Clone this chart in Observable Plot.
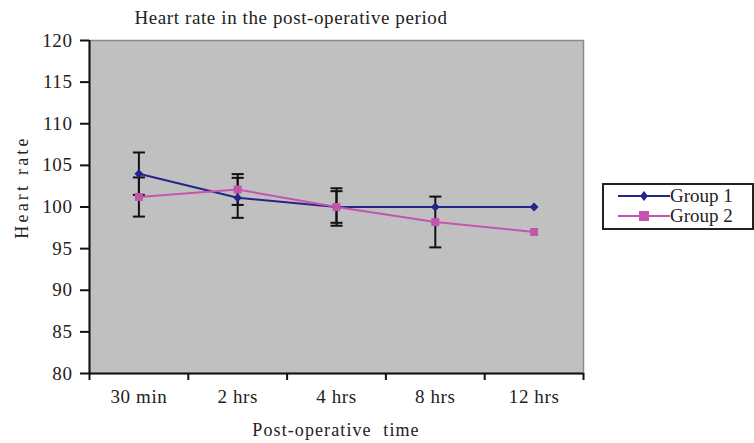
<!DOCTYPE html>
<html><head><meta charset="utf-8">
<script src="https://cdn.jsdelivr.net/npm/d3@7"></script>
<script src="https://cdn.jsdelivr.net/npm/@observablehq/plot@0.6"></script>
<style>
body{margin:0;background:#fff;}
#wrap{position:relative;width:754px;height:443px;font-family:"Liberation Serif",serif;color:#222;overflow:hidden;}
#wrap > svg{position:absolute;left:0;top:0;}
#wrap > svg text{font-size:19px;letter-spacing:0.6px;fill:#222;}
.ov{position:absolute;white-space:nowrap;}
#title{left:0;width:582px;top:7px;text-align:center;font-size:19px;letter-spacing:0.6px;}
#xlab{left:89px;width:494px;top:420px;text-align:center;font-size:18px;letter-spacing:1.1px;word-spacing:6px;}
#ylab{left:22px;top:187px;font-size:18px;letter-spacing:3.2px;transform:translate(-50%,-50%) rotate(-90deg);}
#legend{left:602px;top:183px;width:148px;height:43px;border:2px solid #222;background:#fff;}
.lrow{position:absolute;left:14px;height:20px;display:flex;align-items:center;font-size:19px;}
.lrow svg{display:block;flex:none;}
</style></head><body><div id="wrap">
<div id="title" class="ov">Heart rate in the post-operative period</div>
<div id="xlab" class="ov">Post-operative time</div>
<div id="ylab" class="ov">Heart rate</div>
<div id="legend" class="ov"></div>
</div>
<script>
const categories = ["30 min", "2 hrs", "4 hrs", "8 hrs", "12 hrs"];
const seriesNames = ["Group 1", "Group 2"];
const group1 = [104, 101.1, 100, 100, 100];
const group2 = [101.2, 102.1, 100, 98.2, 97];
const err1 = [2.55, 2.4, 2.25, null, null];
const err2 = [2.35, 1.85, 1.9, 3.05, null];
const yTicks = [80, 85, 90, 95, 100, 105, 110, 115, 120];
const colors = ["#24248A", "#C455AC"];
const symbols = ["diamond2", "square"];

const rows = categories.flatMap((c, i) => [
  {i, cat: c, series: seriesNames[0], v: group1[i], e: err1[i]},
  {i, cat: c, series: seriesNames[1], v: group2[i], e: err2[i]}
]);
const bars = rows.filter(d => d.e != null);
const capSymbol = {draw(ctx, size) { const w = Math.sqrt(size); ctx.moveTo(-w, 0); ctx.lineTo(w, 0); }};
const boundaries = d3.range(categories.length + 1).map(k => k - 0.5);

const chart = Plot.plot({
  width: 754, height: 443,
  marginLeft: 89, marginRight: 171, marginTop: 40, marginBottom: 70,
  x: {domain: [-0.5, categories.length - 0.5]},
  y: {domain: [80, 120]},
  color: {domain: seriesNames, range: colors},
  style: {fontFamily: "Liberation Serif, serif", fontSize: "19px", color: "#222", background: "transparent"},
  marks: [
    Plot.frame({fill: "#C0C0C0", stroke: "#8a8a8a", strokeWidth: 1.5}),
    Plot.axisY({ticks: yTicks, tickSize: 9, tickPadding: 8, label: null, strokeWidth: 2, stroke: "#111"}),
    Plot.axisX({ticks: boundaries, tickSize: 7, tickFormat: () => "", label: null, strokeWidth: 2, stroke: "#111"}),
    Plot.axisX({ticks: d3.range(categories.length), tickSize: 0, tickPadding: 16, tickFormat: i => categories[i], label: null}),
    Plot.ruleX(bars, {x: "i", y1: d => d.v - d.e, y2: d => d.v + d.e, stroke: "#111", strokeWidth: 2}),
    Plot.dot(bars, {x: "i", y: d => d.v - d.e, symbol: capSymbol, r: 3.4, stroke: "#111", strokeWidth: 2}),
    Plot.dot(bars, {x: "i", y: d => d.v + d.e, symbol: capSymbol, r: 3.4, stroke: "#111", strokeWidth: 2}),
    Plot.line(rows, {x: "i", y: "v", z: "series", stroke: "series", strokeWidth: 2}),
    Plot.dot(rows.filter(d => d.series === seriesNames[0]), {x: "i", y: "v", symbol: symbols[0], fill: "series", r: 4}),
    Plot.dot(rows.filter(d => d.series === seriesNames[1]), {x: "i", y: "v", symbol: symbols[1], fill: "series", r: 4.5}),
    Plot.ruleX([-0.5], {stroke: "#111", strokeWidth: 2}),
    Plot.ruleY([80], {stroke: "#111", strokeWidth: 2})
  ]
});
document.getElementById("wrap").prepend(chart);

const legend = document.getElementById("legend");
seriesNames.forEach((name, k) => {
  const row = document.createElement("div");
  row.className = "lrow";
  row.style.top = (1 + k * 20) + "px";
  const shape = k === 0
    ? `<path d="M26,5 L30,10 L26,15 L22,10 Z" fill="${colors[k]}"/>`
    : `<rect x="21" y="5" width="10" height="10" fill="${colors[k]}"/>`;
  row.innerHTML = `<svg width="52" height="20"><line x1="0" y1="10" x2="52" y2="10" stroke="${colors[k]}" stroke-width="2"/>${shape}</svg><span>${name}</span>`;
  legend.appendChild(row);
});
</script>
</body></html>
